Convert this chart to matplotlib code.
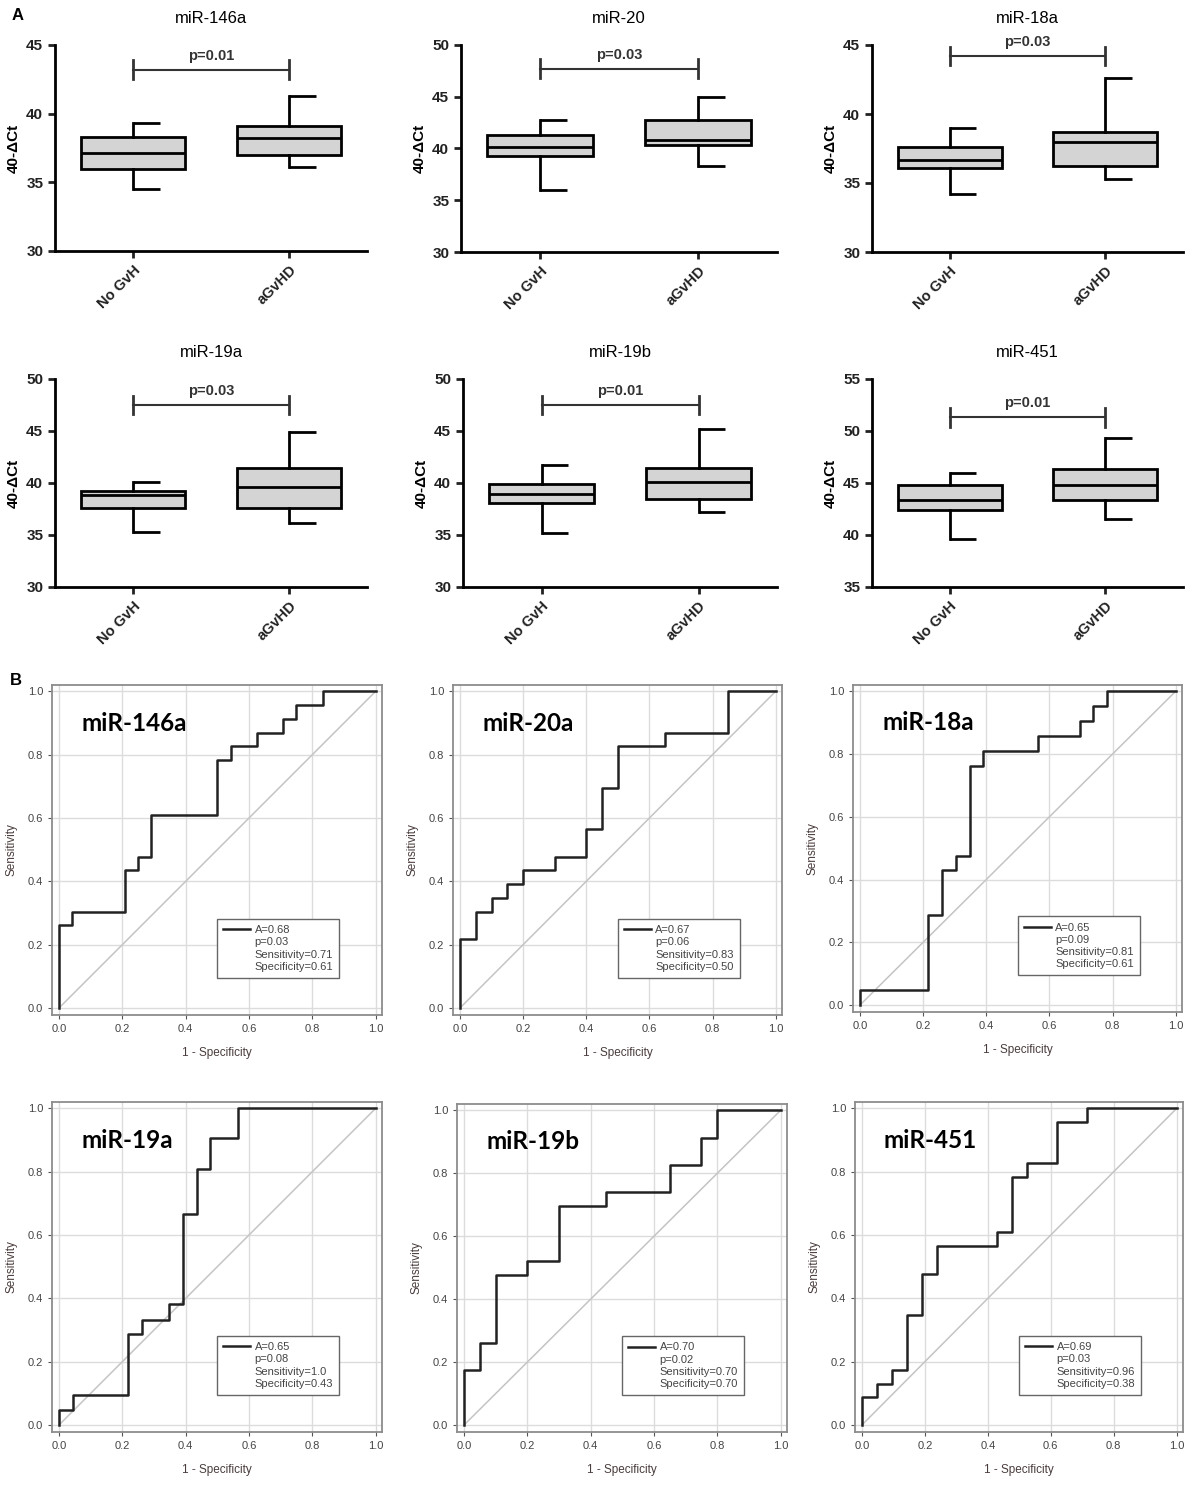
import matplotlib
matplotlib.use("Agg")
import matplotlib.pyplot as plt
from matplotlib.lines import Line2D

plt.rcParams["font.family"] = ["Liberation Sans", "DejaVu Sans"]

# ---- panel A: box plots (40-dCt) ----
box_names = ["miR-146a", "miR-20", "miR-18a", "miR-19a", "miR-19b", "miR-451"]
groups = ["No GvH", "aGvHD"]
# whisker low, Q1, median, Q3, whisker high
no_gvh = [
    [34.5, 36.0, 37.1, 38.3, 39.3],
    [36.0, 39.3, 40.1, 41.3, 42.8],
    [34.2, 36.1, 36.7, 37.6, 39.0],
    [35.3, 37.6, 38.8, 39.2, 40.1],
    [35.2, 38.1, 38.9, 39.9, 41.7],
    [39.6, 42.4, 43.4, 44.8, 46.0],
]
agvhd = [
    [36.1, 37.0, 38.2, 39.1, 41.3],
    [38.3, 40.3, 40.8, 42.8, 45.0],
    [35.3, 36.2, 38.0, 38.7, 42.6],
    [36.2, 37.6, 39.6, 41.4, 44.9],
    [37.2, 38.5, 40.1, 41.4, 45.2],
    [41.5, 43.4, 44.8, 46.3, 49.3],
]
box_p = ["p=0.01", "p=0.03", "p=0.03", "p=0.03", "p=0.01", "p=0.01"]
bar_level = [43.2, 47.7, 44.2, 47.5, 47.5, 51.3]
y_ranges = [(30, 45), (30, 50), (30, 45), (30, 50), (30, 50), (35, 55)]

# ---- panel B: ROC curves (step vertices) ----
roc_names = ["miR-146a", "miR-20a", "miR-18a", "miR-19a", "miR-19b", "miR-451"]
fpr_146a = [0, 0, 0.042, 0.208, 0.25, 0.292, 0.5, 0.542, 0.625, 0.708, 0.75, 0.833, 1.0]
tpr_146a = [0, 0.261, 0.304, 0.435, 0.478, 0.609, 0.783, 0.826, 0.870, 0.913, 0.957, 1.0, 1.0]
fpr_20a = [0, 0, 0.05, 0.1, 0.15, 0.2, 0.3, 0.4, 0.45, 0.5, 0.65, 0.85, 1.0]
tpr_20a = [0, 0.217, 0.304, 0.348, 0.391, 0.435, 0.478, 0.565, 0.696, 0.826, 0.870, 1.0, 1.0]
fpr_18a = [0, 0, 0.217, 0.261, 0.304, 0.348, 0.391, 0.565, 0.696, 0.739, 0.783, 1.0]
tpr_18a = [0, 0.048, 0.286, 0.429, 0.476, 0.762, 0.810, 0.857, 0.905, 0.952, 1.0, 1.0]
fpr_19a = [0, 0, 0.043, 0.217, 0.261, 0.348, 0.391, 0.435, 0.478, 0.565, 1.0]
tpr_19a = [0, 0.048, 0.095, 0.286, 0.333, 0.381, 0.667, 0.810, 0.905, 1.0, 1.0]
fpr_19b = [0, 0, 0.05, 0.1, 0.2, 0.3, 0.45, 0.65, 0.75, 0.8, 1.0]
tpr_19b = [0, 0.174, 0.261, 0.478, 0.522, 0.696, 0.739, 0.826, 0.913, 1.0, 1.0]
fpr_451 = [0, 0, 0.048, 0.095, 0.143, 0.190, 0.238, 0.429, 0.476, 0.524, 0.619, 0.714, 1.0]
tpr_451 = [0, 0.087, 0.130, 0.174, 0.348, 0.478, 0.565, 0.609, 0.783, 0.826, 0.957, 1.0, 1.0]
roc_fpr = [fpr_146a, fpr_20a, fpr_18a, fpr_19a, fpr_19b, fpr_451]
roc_tpr = [tpr_146a, tpr_20a, tpr_18a, tpr_19a, tpr_19b, tpr_451]
roc_auc = ["A=0.68", "A=0.67", "A=0.65", "A=0.65", "A=0.70", "A=0.69"]
roc_p = ["p=0.03", "p=0.06", "p=0.09", "p=0.08", "p=0.02", "p=0.03"]
roc_sens = ["Sensitivity=0.71", "Sensitivity=0.83", "Sensitivity=0.81",
            "Sensitivity=1.0", "Sensitivity=0.70", "Sensitivity=0.96"]
roc_spec = ["Specificity=0.61", "Specificity=0.50", "Specificity=0.61",
            "Specificity=0.43", "Specificity=0.70", "Specificity=0.38"]

W, H = 1192, 1487
fig = plt.figure(figsize=(W / 100, H / 100), dpi=100)


def px_axes(x0, y0, x1, y1):
    # axes from pixel box (top-left origin)
    return fig.add_axes([x0 / W, 1 - y1 / H, (x1 - x0) / W, (y1 - y0) / H])


box_boxes = [
    (55, 45, 367, 251), (461, 45, 777, 252), (872, 45, 1183, 252),
    (55, 379, 367, 587), (463, 379, 777, 587), (872, 379, 1183, 587),
]

for i, name in enumerate(box_names):
    ax = px_axes(*box_boxes[i])
    stats = []
    for g, s in zip(groups, [no_gvh[i], agvhd[i]]):
        stats.append(dict(label=g, whislo=s[0], q1=s[1], med=s[2], q3=s[3], whishi=s[4]))
    ax.bxp(stats, positions=[1, 2], widths=0.67, showfliers=False, showcaps=False,
           patch_artist=True,
           boxprops=dict(facecolor="#d4d4d4", edgecolor="black", linewidth=2),
           medianprops=dict(color="black", linewidth=2),
           whiskerprops=dict(color="black", linewidth=2))
    for pos, s in zip([1, 2], [no_gvh[i], agvhd[i]]):
        ax.hlines([s[0], s[4]], pos, pos + 0.17, color="black", linewidth=2)
    lo, hi = y_ranges[i]
    ax.set_ylim(lo, hi)
    ax.set_xlim(0.5, 2.5)
    ax.set_yticks(range(lo, hi + 1, 5))
    ax.set_xticks([1, 2])
    ax.set_xticklabels(groups, rotation=45, ha="right", rotation_mode="anchor",
                       fontsize=10.5, fontweight="bold")
    for lab in ax.get_yticklabels():
        lab.set_fontweight("bold")
        lab.set_fontsize(11)
    ax.spines["top"].set_visible(False)
    ax.spines["right"].set_visible(False)
    ax.spines["left"].set_linewidth(2)
    ax.spines["bottom"].set_linewidth(2)
    ax.tick_params(width=2, length=5, colors="#222222")
    ax.set_ylabel("40-ΔCt", fontsize=11, fontweight="bold")
    ax.set_title(name, fontsize=12, pad=16)
    # significance bracket
    yb = bar_level[i]
    span = hi - lo
    tick = span * 0.045
    ax.plot([1, 2], [yb, yb], color="#333333", linewidth=1.5, clip_on=False)
    ax.plot([1, 1], [yb - tick, yb + tick], color="#333333", linewidth=2, clip_on=False)
    ax.plot([2, 2], [yb - tick, yb + tick], color="#333333", linewidth=2, clip_on=False)
    ax.text(1.5, yb + span * 0.035, box_p[i], ha="center", va="bottom",
            fontsize=10.5, fontweight="bold", color="#333333")

roc_boxes = [
    (52, 685, 382, 1015), (453, 685, 782, 1015), (853, 685, 1182, 1012),
    (52, 1102, 382, 1432), (457, 1104, 787, 1432), (855, 1102, 1183, 1432),
]

for i, name in enumerate(roc_names):
    ax = px_axes(*roc_boxes[i])
    ax.set_xlim(-0.022, 1.02)
    ax.set_ylim(-0.022, 1.02)
    ticks = [0, 0.2, 0.4, 0.6, 0.8, 1.0]
    ax.set_xticks(ticks)
    ax.set_yticks(ticks)
    ax.set_xticklabels(["%.1f" % t for t in ticks])
    ax.set_yticklabels(["%.1f" % t for t in ticks])
    ax.grid(True, color="#dcdcdc", linewidth=1)
    ax.set_axisbelow(True)
    for sp in ax.spines.values():
        sp.set_color("#8c8c8c")
        sp.set_linewidth(1.3)
    ax.tick_params(labelsize=8, colors="#555555", labelcolor="#444444",
                   length=3, width=0.8)
    ax.plot([0, 1], [0, 1], color="#c4c4c4", linewidth=1.1)
    line, = ax.plot(roc_fpr[i], roc_tpr[i], drawstyle="steps-post",
                    color="#222222", linewidth=1.8)
    ax.set_xlabel("1 - Specificity", fontsize=8.5, color="#4a3c3c", labelpad=9)
    ax.set_ylabel("Sensitivity", fontsize=8.5, color="#4a3c3c", labelpad=7)
    ax.text(0.07, 0.9, name, fontsize=17.5, fontweight="bold",
            family=["Lato", "DejaVu Sans"], va="center", ha="left", color="black")
    blank = Line2D([], [], color="none")
    leg = ax.legend([line, blank, blank, blank],
                    [roc_auc[i], roc_p[i], roc_sens[i], roc_spec[i]],
                    loc="lower left", bbox_to_anchor=(0.5, 0.095),
                    bbox_transform=ax.transData, fontsize=8,
                    handlelength=2.4, handletextpad=0.4, labelspacing=0.2,
                    borderpad=0.55, borderaxespad=0, fancybox=False, framealpha=1)
    leg.get_frame().set_edgecolor("#666666")
    leg.get_frame().set_linewidth(1.0)
    for t in leg.get_texts():
        t.set_color("#444444")

fig.text(12 / W, 1 - 15 / H, "A", fontsize=12, fontweight="bold", va="center")
fig.text(10 / W, 1 - 680 / H, "B", fontsize=12, fontweight="bold", va="center")

fig.savefig("out.png", dpi=100)
